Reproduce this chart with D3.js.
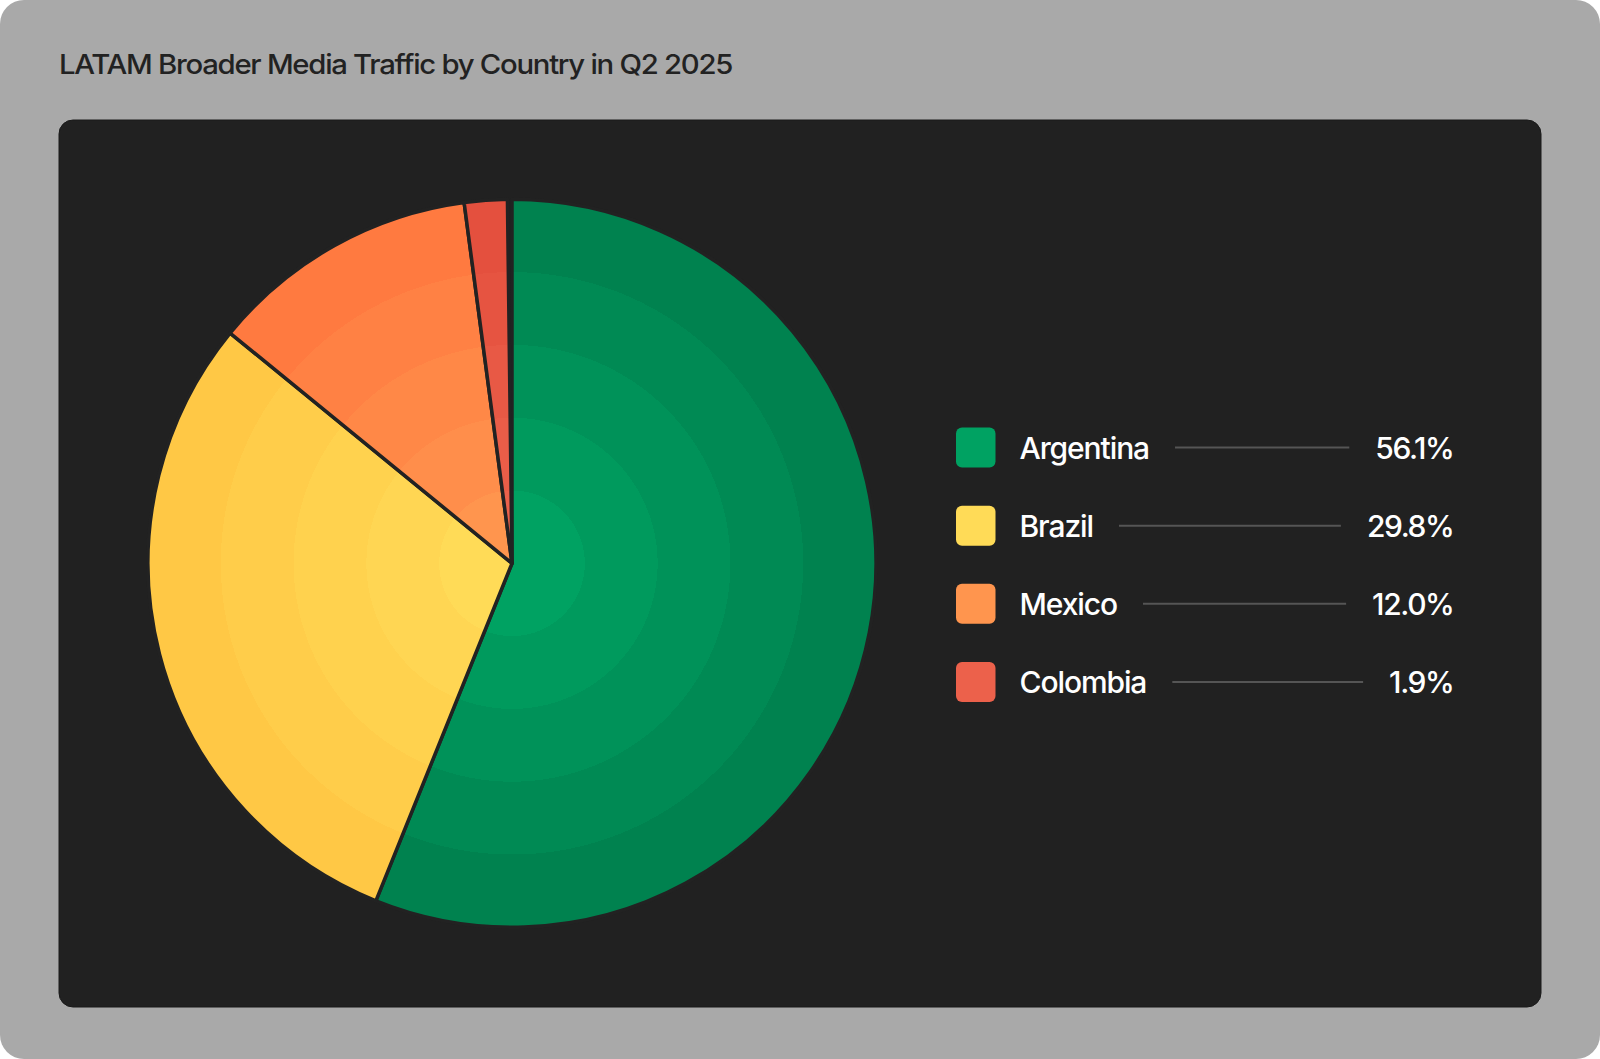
<!DOCTYPE html>
<html>
<head>
<meta charset="utf-8">
<script src="https://cdn.jsdelivr.net/npm/d3@7/dist/d3.min.js"></script>
<style>
html,body{margin:0;padding:0;background:#ffffff;}
svg{display:block;}
</style>
</head>
<body>
<svg id="chart" width="1600" height="1059"></svg>
<script>
const title = "LATAM Broader Media Traffic by Country in Q2 2025";
const countries = ["Argentina", "Brazil", "Mexico", "Colombia"];
const shares = [56.1, 29.8, 12.0, 1.9];
const innerColors = ["#00a262", "#ffdb57", "#ff954e", "#ec614b"];
const outerColors = ["#00824f", "#ffc845", "#ff7a40", "#e4503e"];
const valueLabels = ["56.1%", "29.8%", "12.0%", "1.9%"];

const W = 1600, H = 1059;
const svg = d3.select("#chart");
const defs = svg.append("defs");

// outer grey card
svg.append("rect").attr("x",0).attr("y",0).attr("width",W).attr("height",H)
  .attr("rx",24).attr("fill","#a9a9a9");

svg.append("text").attr("x",59).attr("y",74)
  .attr("font-family","Inter, 'Noto Sans', sans-serif")
  .attr("font-size",27.5).attr("font-weight",500).attr("fill","#222222")
  .attr("letter-spacing",-1.2)
  .attr("textLength",673).attr("lengthAdjust","spacingAndGlyphs")
  .text(title);

// dark panel
svg.append("rect").attr("x",59).attr("y",120).attr("width",1482).attr("height",887)
  .attr("rx",14).attr("fill","#212121").attr("stroke","#1a1a1a").attr("stroke-width",1);

// pie
const cx = 512, cy = 563.3, R = 364;
const bands = 5;
const angle = d3.scaleLinear().domain([0,100]).range([0, 2*Math.PI]);
const data = countries.map((c,i)=>({name:c, value:shares[i], i}));
const total = d3.sum(shares);
const pie = d3.pie().sort(null).value(d=>d.value).startAngle(0).endAngle(angle(total));
const arc = d3.arc().innerRadius(0).outerRadius(R);

data.forEach((d,i)=>{
  const g = defs.append("radialGradient").attr("id","grad"+i)
    .attr("gradientUnits","userSpaceOnUse")
    .attr("cx",0).attr("cy",0).attr("r",R).attr("fx",0).attr("fy",0);
  const interp = d3.interpolateRgb(innerColors[i], outerColors[i]);
  for(let b=0;b<bands;b++){
    const col = interp(b/(bands-1));
    g.append("stop").attr("offset",(b/bands)).attr("stop-color",col);
    g.append("stop").attr("offset",((b+1)/bands)).attr("stop-color",col);
  }
});

const pg = svg.append("g").attr("transform",`translate(${cx},${cy})`);
pg.selectAll("path").data(pie(data)).join("path")
  .attr("d",arc)
  .attr("fill",d=>`url(#grad${d.data.i})`)
  .attr("stroke","#222222").attr("stroke-width",3.5).attr("stroke-linejoin","round");

// legend
const rowY = d3.scalePoint().domain(countries).range([447.5, 682]);
const lg = svg.append("g");
const fontFam = "Inter, 'Noto Sans', sans-serif";
countries.forEach((c,i)=>{
  const y = rowY(c);
  lg.append("rect").attr("x",956).attr("y",y-20).attr("width",39.5).attr("height",40)
    .attr("rx",6).attr("fill",innerColors[i]);
  const lab = lg.append("text").attr("x",1019.5).attr("y",y+11)
    .attr("font-family",fontFam).attr("font-size",30).attr("font-weight",500)
    .attr("letter-spacing",-1.1).attr("fill","#ffffff").text(c);
  const val = lg.append("text").attr("x",1453.5).attr("y",y+11)
    .attr("text-anchor","end")
    .attr("font-family",fontFam).attr("font-size",30).attr("font-weight",500)
    .attr("letter-spacing",-1.4).attr("fill","#ffffff").text(valueLabels[i]);
  const lb = lab.node().getBBox();
  const vb = val.node().getBBox();
  lg.append("line").attr("x1",lb.x+lb.width+26).attr("x2",vb.x-26)
    .attr("y1",y).attr("y2",y).attr("stroke","#555555").attr("stroke-width",2);
});
</script>
</body>
</html>
